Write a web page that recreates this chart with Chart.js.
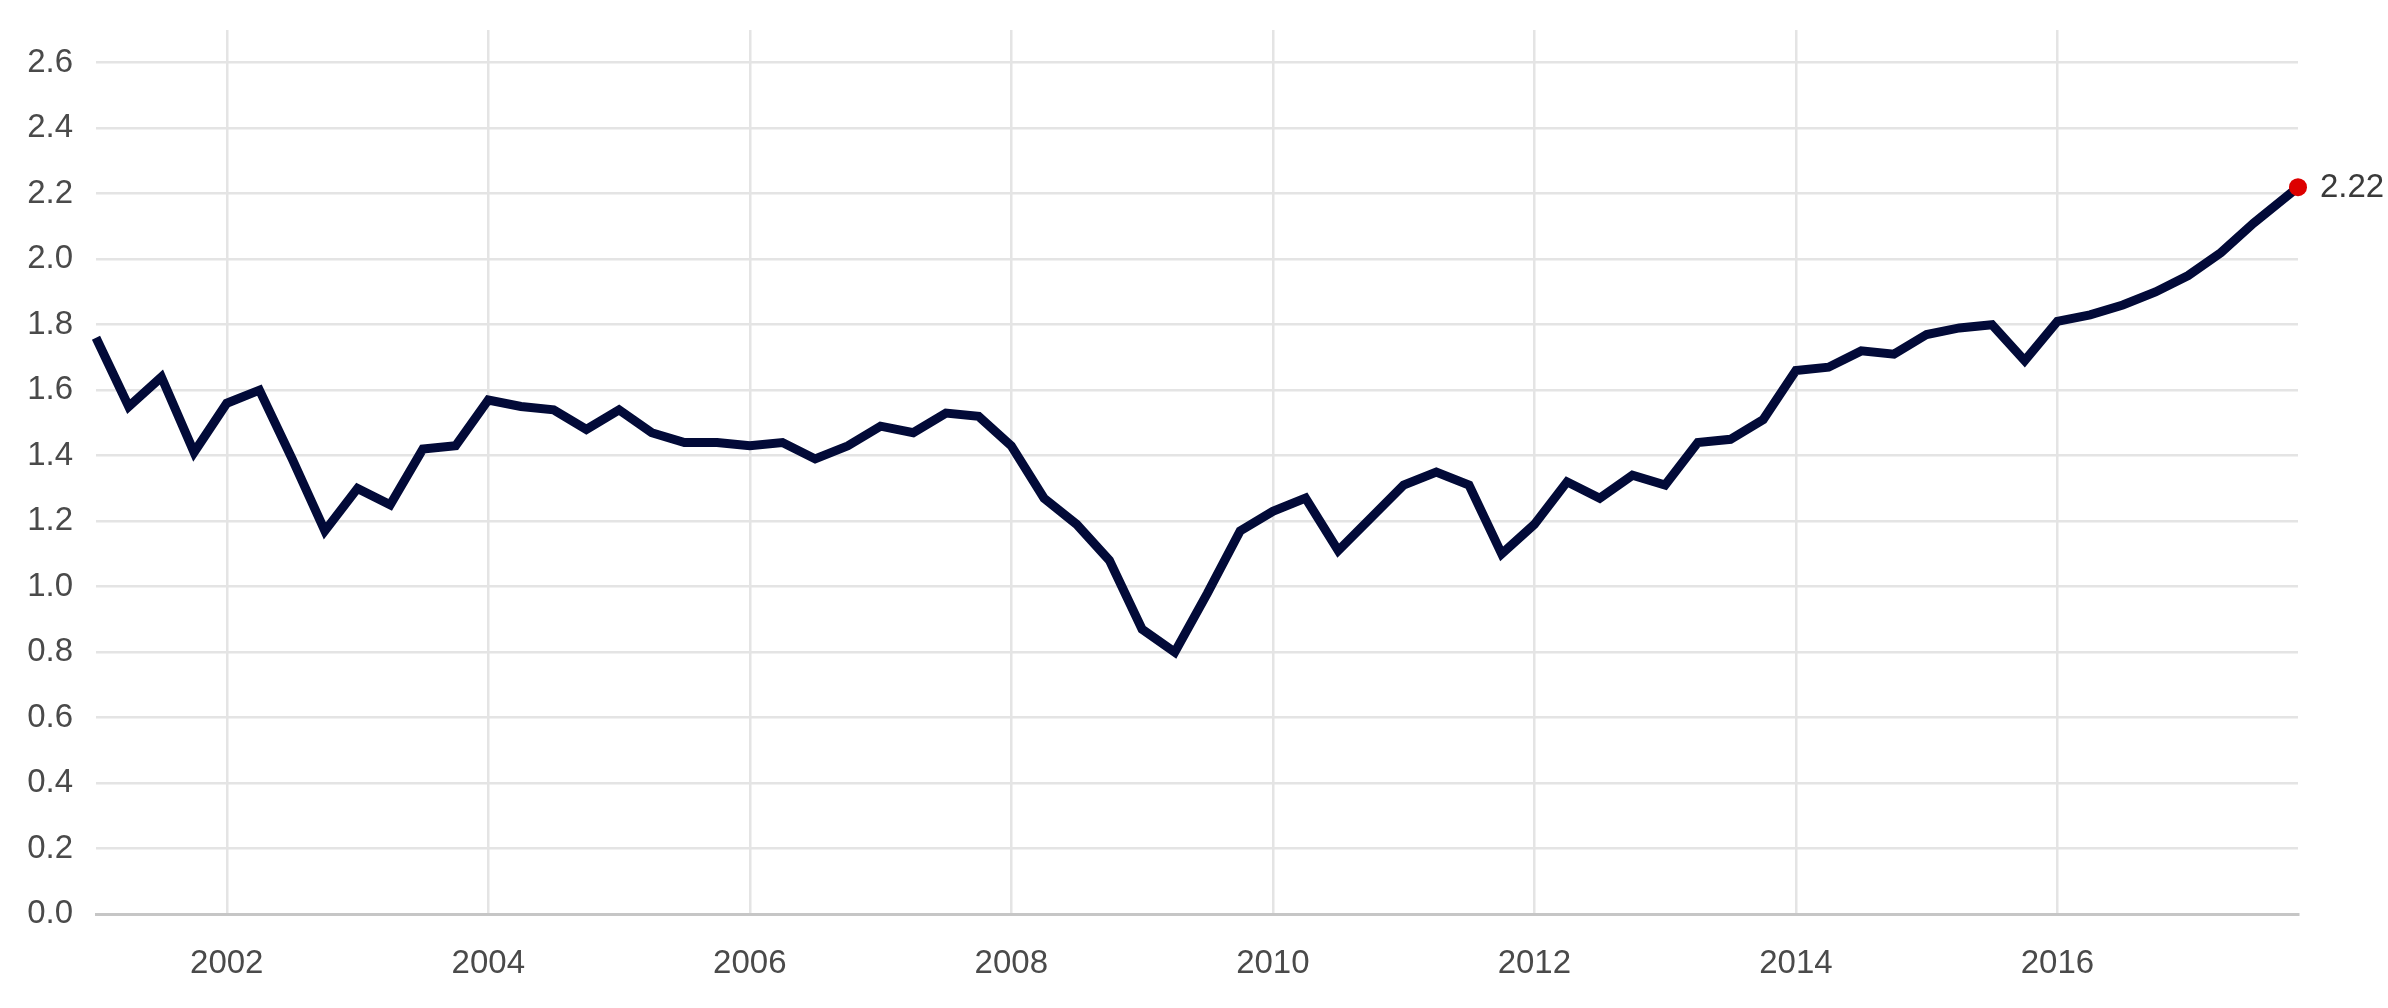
<!DOCTYPE html>
<html>
<head>
<meta charset="utf-8">
<script src="https://cdn.jsdelivr.net/npm/chart.js@4/dist/chart.umd.min.js"></script>
<style>
  html, body { margin: 0; padding: 0; background: #ffffff; }
  #wrap { width: 2388px; height: 1008px; }
</style>
</head>
<body>
<div id="wrap"><canvas id="c" width="2388" height="1008"></canvas></div>
<script>
// Periods (decimal years, quarterly)
const periods = [
  2001.00, 2001.25, 2001.50, 2001.75,
  2002.00, 2002.25, 2002.50, 2002.75,
  2003.00, 2003.25, 2003.50, 2003.75,
  2004.00, 2004.25, 2004.50, 2004.75,
  2005.00, 2005.25, 2005.50, 2005.75,
  2006.00, 2006.25, 2006.50, 2006.75,
  2007.00, 2007.25, 2007.50, 2007.75,
  2008.00, 2008.25, 2008.50, 2008.75,
  2009.00, 2009.25, 2009.50, 2009.75,
  2010.00, 2010.25, 2010.50, 2010.75,
  2011.00, 2011.25, 2011.50, 2011.75,
  2012.00, 2012.25, 2012.50, 2012.75,
  2013.00, 2013.25, 2013.50, 2013.75,
  2014.00, 2014.25, 2014.50, 2014.75,
  2015.00, 2015.25, 2015.50, 2015.75,
  2016.00, 2016.25, 2016.50, 2016.75,
  2017.00, 2017.25, 2017.50, 2017.84
];
// Series values
const values = [
  1.76, 1.55, 1.64, 1.41,
  1.56, 1.60, 1.39, 1.17,
  1.30, 1.25, 1.42, 1.43,
  1.57, 1.55, 1.54, 1.48,
  1.54, 1.47, 1.44, 1.44,
  1.43, 1.44, 1.39, 1.43,
  1.49, 1.47, 1.53, 1.52,
  1.43, 1.27, 1.19, 1.08,
  0.87, 0.80, 0.98, 1.17,
  1.23, 1.27, 1.11, 1.21,
  1.31, 1.35, 1.31, 1.10,
  1.19, 1.32, 1.27, 1.34,
  1.31, 1.44, 1.45, 1.51,
  1.66, 1.67, 1.72, 1.71,
  1.77, 1.79, 1.80, 1.69,
  1.81, 1.83, 1.86, 1.90,
  1.95, 2.02, 2.11, 2.22
];
// Tick labels
const xTicks = [2002, 2004, 2006, 2008, 2010, 2012, 2014, 2016];
const yTicks = [0.0, 0.2, 0.4, 0.6, 0.8, 1.0, 1.2, 1.4, 1.6, 1.8, 2.0, 2.2, 2.4, 2.6];
const lastLabel = "2.22";

const FONT = "'Liberation Sans', Arial, sans-serif";
const lastIdx = values.length - 1;

const lastValuePlugin = {
  id: 'lastValue',
  afterDatasetsDraw(chart) {
    const meta = chart.getDatasetMeta(0);
    const pt = meta.data[lastIdx];
    if (!pt) return;
    const ctx = chart.ctx;
    ctx.save();
    ctx.font = "33px " + FONT;
    ctx.fillStyle = '#3a3a3a';
    ctx.textAlign = 'left';
    ctx.textBaseline = 'middle';
    ctx.fillText(lastLabel, pt.x + 22, pt.y + 1);
    ctx.restore();
  }
};

new Chart(document.getElementById('c'), {
  type: 'line',
  data: {
    datasets: [{
      data: periods.map((p, i) => ({ x: p, y: values[i] })),
      borderColor: '#020a38',
      borderWidth: 9,
      tension: 0,
      fill: false,
      clip: false,
      pointRadius: (c) => c.dataIndex === lastIdx ? 9 : 0,
      pointBackgroundColor: '#dd0000',
      pointBorderColor: '#dd0000',
      pointBorderWidth: 0,
      pointHoverRadius: 0
    }]
  },
  options: {
    responsive: false,
    devicePixelRatio: 1,
    animation: false,
    layout: { padding: { left: 28, right: 90, top: 30, bottom: 24 } },
    plugins: { legend: { display: false }, tooltip: { enabled: false } },
    scales: {
      x: {
        type: 'linear',
        min: 2001,
        max: 2017.84,
        afterBuildTicks: (s) => { s.ticks = xTicks.map(v => ({ value: v })); },
        afterFit: (s) => { s.height = 70; s.paddingLeft = 0; s.paddingRight = 0; },
        ticks: {
          autoSkip: false,
          maxRotation: 0,
          padding: 30,
          color: '#4a4a4a',
          font: { family: FONT, size: 33 },
          callback: (v) => String(v)
        },
        grid: { color: '#e4e4e4', lineWidth: 2.5, drawTicks: false },
        border: { display: true, color: '#c6c6c6', width: 3 }
      },
      y: {
        min: 0,
        max: 2.7,
        afterBuildTicks: (s) => { s.ticks = yTicks.map(v => ({ value: v })); },
        afterFit: (s) => { s.width = 68; s.paddingTop = 0; s.paddingBottom = 0; },
        ticks: {
          padding: 23,
          color: '#4a4a4a',
          font: { family: FONT, size: 33 },
          callback: (v) => Number(v).toFixed(1)
        },
        grid: { color: '#e4e4e4', lineWidth: 2.5, drawTicks: false },
        border: { display: false }
      }
    }
  },
  plugins: [lastValuePlugin]
});
</script>
</body>
</html>
